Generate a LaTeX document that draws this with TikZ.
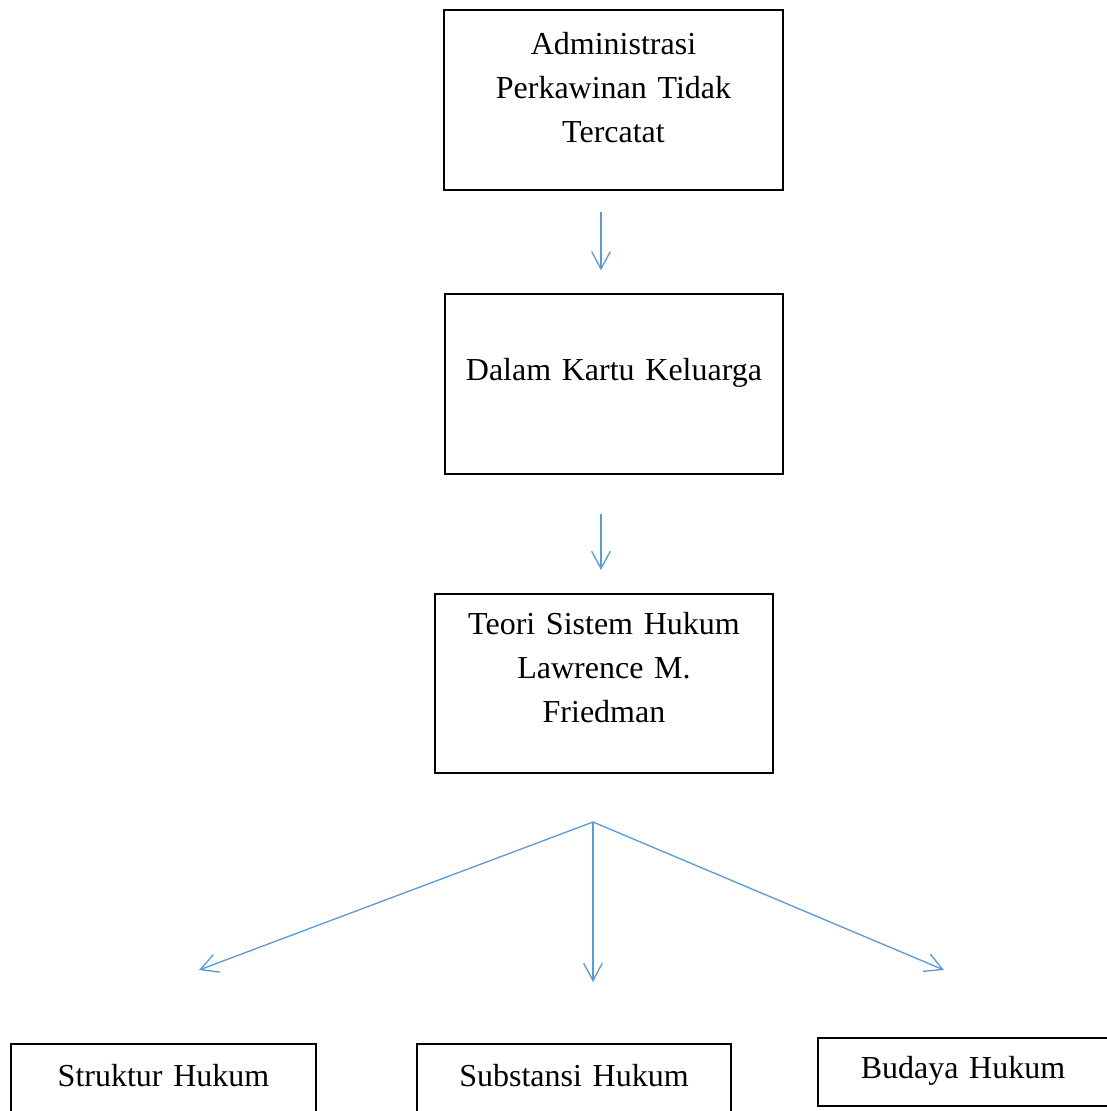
\documentclass[tikz,border=0pt]{standalone}
\usepackage{fontspec}
\setmainfont{Liberation Serif}
\usepackage{tikz}
\usetikzlibrary{arrows.meta}
\definecolor{lineblue}{RGB}{91, 155, 213}

\begin{document}
\begin{tikzpicture}[x=0.75pt, y=-0.75pt,
  box/.style={draw, line width=1.5pt, anchor=north, align=center, inner xsep=6pt, inner ysep=0pt,
    font=\fontsize{24pt}{33pt}\selectfont},
  flow/.style={->, >={Straight Barb[length=13pt, width=14pt]}, color=lineblue, line width=1pt}]

  \path[use as bounding box, clip] (0, 0) rectangle (1107, 1111);

  \node[box, minimum width=254pt, text width=230pt, text height=33pt, text depth=102pt] (admin) at (613.5, 9)
    { Administrasi\\ Perkawinan Tidak\\ Tercatat };
  \node[box, minimum width=253.5pt, text width=230pt, text height=64.5pt, text depth=70.5pt] (kartu) at (614, 293)
    { Dalam Kartu Keluarga };
  \node[box, minimum width=253.5pt, text width=230pt, text height=30pt, text depth=104.25pt] (teori) at (604, 593)
    { Teori Sistem Hukum\\ Lawrence M.\\ Friedman };

  \node[box, minimum width=228.75pt, text width=200pt, text height=31.5pt, text depth=30pt] (struktur) at (163.5, 1043)
    { Struktur Hukum };
  \node[box, minimum width=235.5pt, text width=200pt, text height=31.5pt, text depth=30pt] (substansi) at (574, 1043)
    { Substansi Hukum };
  \node[box, minimum width=217.5pt, text width=200pt, text height=30pt, text depth=21pt] (budaya) at (963, 1037)
    { Budaya Hukum };

  \draw [flow, shorten <=15.75pt, shorten >=17pt] (admin.south -| 601,0) -- (kartu.north -| 601,0);
  \draw [flow, shorten <=29.25pt, shorten >=17.25pt] (kartu.south -| 601,0) -- (teori.north -| 601,0);

  % fork to the three parts
  \coordinate (fork) at (593, 822);
  \coordinate (toStruktur) at (199, 970);
  \coordinate (toSubstansi) at (593, 982);
  \coordinate (toBudaya) at (944, 970);
  \draw [flow] (fork) -- (toStruktur);
  \draw [flow] (fork) -- (toSubstansi);
  \draw [flow] (fork) -- (toBudaya);

\end{tikzpicture}
\end{document}
